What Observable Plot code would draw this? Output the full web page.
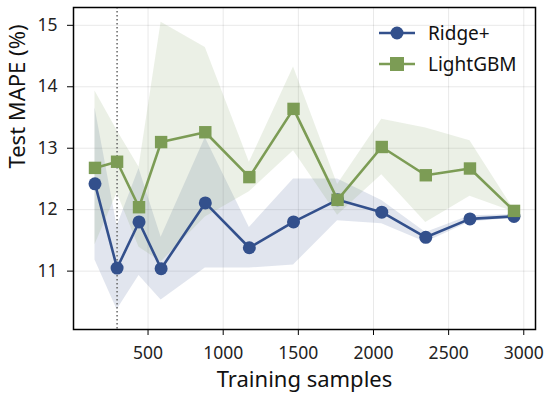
<!DOCTYPE html>
<html>
<head>
<meta charset="utf-8">
<script src="https://cdn.jsdelivr.net/npm/d3@7"></script>
<script src="https://cdn.jsdelivr.net/npm/@observablehq/plot@0.6"></script>
<style>
  body { margin: 0; background: #fff; }
  #wrap { position: relative; width: 550px; height: 402px; font-family: "Noto Sans", sans-serif; }
  #legend { position: absolute; left: 378px; top: 17px; font-size: 19px; color: #111; }
  #legend .row { display: flex; align-items: center; height: 31px; }
  #legend svg { margin-right: 12px; }
</style>
</head>
<body>
<div id="wrap"></div>
<script>
const trainSizes = [147, 294, 440, 587, 881, 1174, 1468, 1761, 2055, 2348, 2642, 2935];
const ridgeMean = [12.42, 11.05, 11.80, 11.04, 12.11, 11.38, 11.80, 12.16, 11.96, 11.55, 11.85, 11.89];
const ridgeStd  = [1.24, 0.68, 0.87, 0.51, 1.06, 0.33, 0.70, 0.34, 0.19, 0.08, 0.05, 0.03];
const lgbmMean  = [12.68, 12.78, 12.04, 13.10, 13.26, 12.53, 13.64, 12.16, 13.02, 12.56, 12.67, 11.98];
const lgbmStd   = [1.25, 0.51, 0.65, 1.95, 1.38, 0.24, 0.68, 0.25, 0.45, 0.77, 0.45, 0.02];
const seriesNames = ["Ridge+", "LightGBM"];
const seriesColors = ["#33508c", "#7c9c55"];
const markerSymbols = ["circle", "square"];
const markerLine = 294;
const xTicks = [500, 1000, 1500, 2000, 2500, 3000];
const yTicks = [11, 12, 13, 14, 15];
const xLabel = "Training samples";
const yLabel = "Test MAPE (%)";

const ridge = trainSizes.map((x, i) => ({x, y: ridgeMean[i], lo: ridgeMean[i] - ridgeStd[i], hi: ridgeMean[i] + ridgeStd[i]}));
const lgbm = trainSizes.map((x, i) => ({x, y: lgbmMean[i], lo: lgbmMean[i] - lgbmStd[i], hi: lgbmMean[i] + lgbmStd[i]}));

const font = '"Noto Sans", sans-serif';

const chart = Plot.plot({
  width: 550,
  height: 402,
  marginLeft: 73,
  marginRight: 15,
  marginTop: 7,
  marginBottom: 73,
  style: {fontFamily: font, fontSize: "17.5px", color: "#222", background: "white"},
  x: {domain: [4, 3078]},
  y: {domain: [10.05, 15.29]},
  marks: [
    Plot.gridX(xTicks, {stroke: "#000", strokeOpacity: 0.09}),
    Plot.gridY(yTicks, {stroke: "#000", strokeOpacity: 0.09}),
    Plot.areaY(ridge, {x: "x", y1: "lo", y2: "hi", fill: seriesColors[0], fillOpacity: 0.15}),
    Plot.areaY(lgbm, {x: "x", y1: "lo", y2: "hi", fill: seriesColors[1], fillOpacity: 0.15}),
    Plot.ruleX([markerLine], {stroke: "#666", strokeWidth: 1.5, strokeDasharray: "1.5,2.5"}),
    Plot.lineY(ridge, {x: "x", y: "y", stroke: seriesColors[0], strokeWidth: 2.6}),
    Plot.dot(ridge, {x: "x", y: "y", r: 6.5, fill: seriesColors[0], symbol: markerSymbols[0]}),
    Plot.lineY(lgbm, {x: "x", y: "y", stroke: seriesColors[1], strokeWidth: 2.6}),
    Plot.dot(lgbm, {x: "x", y: "y", r: 7, fill: seriesColors[1], symbol: markerSymbols[1]}),
    Plot.axisX({ticks: xTicks, tickFormat: d3.format("d"), tickSize: 6, tickPadding: 11, label: null, fontSize: 17.5, stroke: "#000"}),
    Plot.axisY({ticks: yTicks, tickFormat: d3.format("d"), tickSize: 6, tickPadding: 10, label: null, fontSize: 17.5, stroke: "#000"}),
    Plot.text([xLabel], {frameAnchor: "bottom", dy: 57, fontSize: 22, fill: "#111", text: d => d}),
    Plot.text([yLabel], {frameAnchor: "left", dx: -56, rotate: -90, fontSize: 22, fill: "#111", text: d => d}),
    Plot.frame({stroke: "#000", strokeWidth: 1.5})
  ]
});

const wrap = document.getElementById("wrap");
wrap.appendChild(chart);

const legend = document.createElement("div");
legend.id = "legend";
seriesNames.forEach((name, i) => {
  const row = document.createElement("div");
  row.className = "row";
  const marker = markerSymbols[i] === "circle"
    ? `<circle cx="19" cy="10" r="6.5" fill="${seriesColors[i]}"/>`
    : `<rect x="12" y="3" width="14" height="14" fill="${seriesColors[i]}"/>`;
  row.innerHTML = `<svg width="38" height="20"><line x1="1" y1="10" x2="37" y2="10" stroke="${seriesColors[i]}" stroke-width="2.6"/>${marker}</svg><span>${name}</span>`;
  legend.appendChild(row);
});
wrap.appendChild(legend);
</script>
</body>
</html>
